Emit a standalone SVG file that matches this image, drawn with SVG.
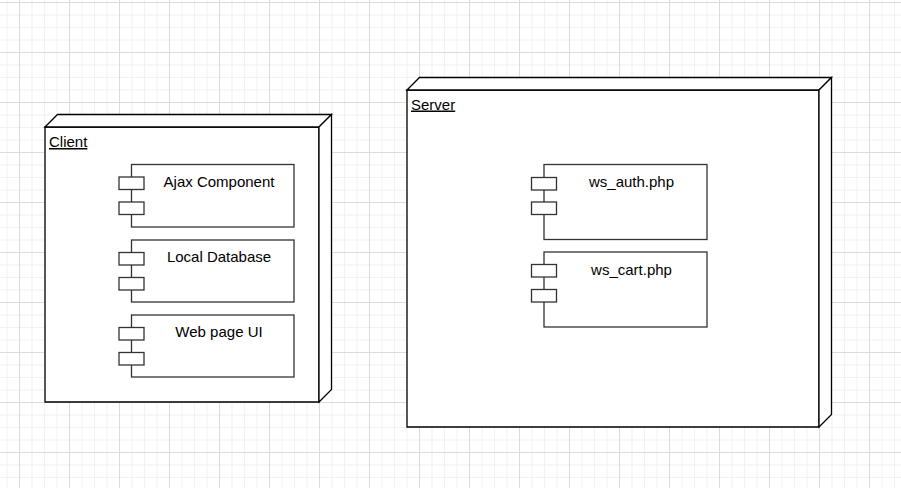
<svg xmlns="http://www.w3.org/2000/svg" width="901" height="488" viewBox="0 0 901 488">
<style>
.node{fill:#fff;stroke:#000;stroke-width:1.3;stroke-linejoin:miter}
.comp{fill:#fff;stroke:#333;stroke-width:1.3}
.lbl{font-family:"Liberation Sans",Arial,sans-serif;font-size:15px;fill:#000}
.title{font-family:"Liberation Sans",Arial,sans-serif;font-size:15px;fill:#000;text-decoration:underline}
</style>
<defs>
<pattern id="grid" patternUnits="userSpaceOnUse" x="19" y="2" width="50" height="50">
<rect x="0" y="0" width="50" height="50" fill="#fff"/>
<g fill="#f2f2f2">
<rect x="12.5" y="0" width="1" height="50"/>
<rect x="25" y="0" width="1" height="50"/>
<rect x="37.5" y="0" width="1" height="50"/>
<rect x="0" y="12.5" width="50" height="1"/>
<rect x="0" y="25" width="50" height="1"/>
<rect x="0" y="37.5" width="50" height="1"/>
</g>
<g fill="#dcdcdc">
<rect x="0" y="0" width="1" height="50"/>
<rect x="0" y="0" width="50" height="1"/>
</g>
</pattern>
<g id="port">
<rect x="0" y="0" width="25" height="12.5" class="comp"/>
</g>
</defs>
<rect width="901" height="488" fill="url(#grid)"/>

<g id="client">
<path class="node" d="M45,127 H319 V402 H45 Z"/>
<path class="node" d="M45,127 L57.5,114.5 H331.5 L319,127 Z"/>
<path class="node" d="M319,402 L331.5,389.5 V114.5 L319,127 Z"/>
<text class="title" x="49" y="147">Client</text>
</g>

<g id="ajax">
<rect class="comp" x="131.5" y="164.5" width="162.5" height="62.5"/>
<use href="#port" x="119" y="177"/>
<use href="#port" x="119" y="202"/>
<text class="lbl" x="219" y="187" text-anchor="middle">Ajax Component</text>
</g>

<g id="localdb">
<rect class="comp" x="131.5" y="240" width="162.5" height="62"/>
<use href="#port" x="119" y="252.5"/>
<use href="#port" x="119" y="277.5"/>
<text class="lbl" x="219" y="262" text-anchor="middle">Local Database</text>
</g>

<g id="webui">
<rect class="comp" x="131.5" y="315" width="162.5" height="62"/>
<use href="#port" x="119" y="327.5"/>
<use href="#port" x="119" y="352.5"/>
<text class="lbl" x="219" y="337" text-anchor="middle">Web page UI</text>
</g>

<g id="server">
<path class="node" d="M407,90 H819 V427 H407 Z"/>
<path class="node" d="M407,90 L419.5,77.5 H831.5 L819,90 Z"/>
<path class="node" d="M819,427 L831.5,414.5 V77.5 L819,90 Z"/>
<text class="title" x="411" y="109.5">Server</text>
</g>

<g id="ws_auth">
<rect class="comp" x="544" y="164.5" width="163" height="75"/>
<use href="#port" x="531.5" y="177.5"/>
<use href="#port" x="531.5" y="202"/>
<text class="lbl" x="631.5" y="187" text-anchor="middle">ws_auth.php</text>
</g>

<g id="ws_cart">
<rect class="comp" x="544" y="252" width="163" height="75"/>
<use href="#port" x="531.5" y="264.5"/>
<use href="#port" x="531.5" y="289.5"/>
<text class="lbl" x="631.5" y="274.5" text-anchor="middle">ws_cart.php</text>
</g>

<g id="connectors"></g>
</svg>
